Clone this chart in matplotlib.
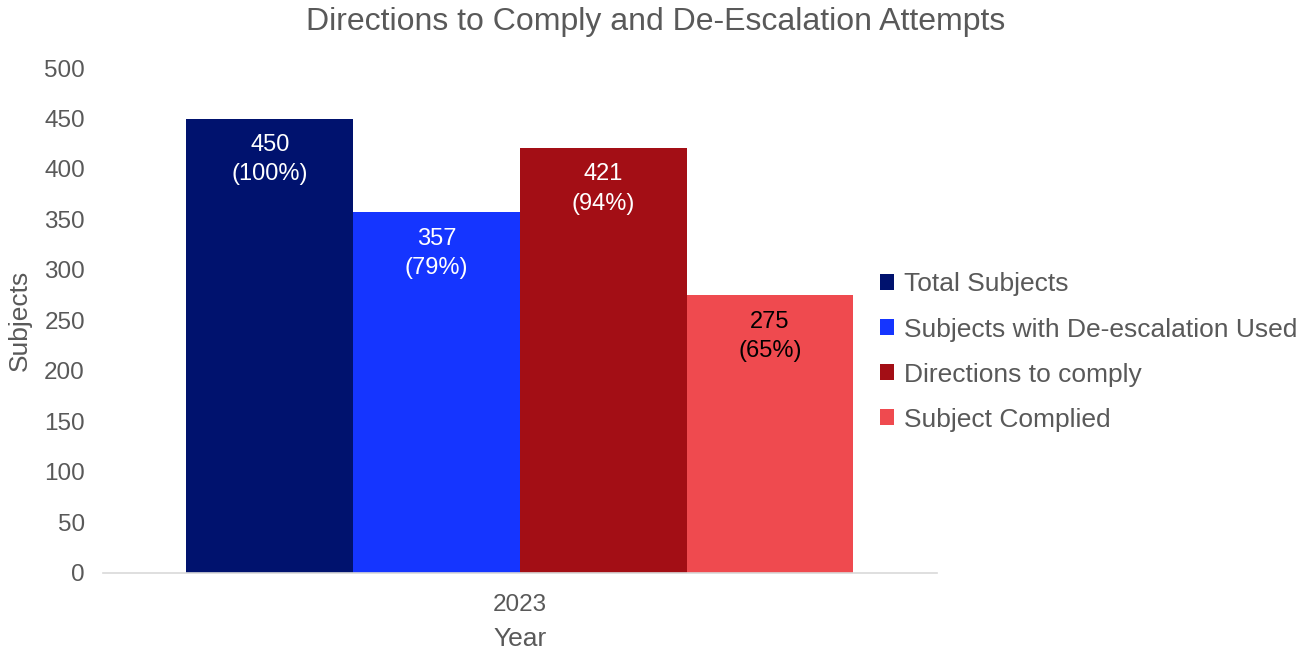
import matplotlib.pyplot as plt

plt.rcParams['font.family'] = ['Liberation Sans', 'DejaVu Sans']

year = '2023'
series = ['Total Subjects', 'Subjects with De-escalation Used',
          'Directions to comply', 'Subject Complied']
values = [450, 357, 421, 275]
pcts = ['100%', '79%', '94%', '65%']
colors = ['#00126e', '#1535ff', '#a30e15', '#ef4a4f']
label_colors = ['white', 'white', 'white', 'black']

grey = '#595959'

fig = plt.figure(figsize=(13.11, 6.52), dpi=100)
ax = fig.add_axes([0.0786, 0.1212, 0.636, 0.7745])

width = 0.2
offsets = [-0.3, -0.1, 0.1, 0.3]
for i in range(len(series)):
    ax.bar(offsets[i], values[i], width, color=colors[i], label=series[i])
    ax.annotate('%d\n(%s)' % (values[i], pcts[i]), (offsets[i], values[i]),
                xytext=(0, -11), textcoords='offset points', ha='center',
                va='top', fontsize=17, color=label_colors[i], linespacing=1.45)

ax.set_xlim(-0.5, 0.5)
ax.set_ylim(0, 500)
ax.set_yticks(range(0, 501, 50))
ax.set_xticks([0])
ax.set_xticklabels([year])
ax.tick_params(length=0, labelsize=17.5, colors=grey)
ax.tick_params(axis='y', pad=13)
ax.tick_params(axis='x', pad=15)
for s in ['top', 'right', 'left']:
    ax.spines[s].set_visible(False)
ax.spines['bottom'].set_color('#d9d9d9')
ax.spines['bottom'].set_linewidth(1.2)

ax.set_xlabel('Year', fontsize=19, color=grey, labelpad=8)
ax.set_ylabel('Subjects', fontsize=19, color=grey, labelpad=9)
fig.suptitle('Directions to Comply and De-Escalation Attempts', fontsize=23,
             color=grey, y=0.99)

fig.legend(loc='center left', bbox_to_anchor=(0.653, 0.46), frameon=False,
           fontsize=19, labelcolor=grey, handlelength=0.55, handleheight=0.55,
           handletextpad=0.35, labelspacing=0.8)

fig.savefig('out.png', dpi=100)
